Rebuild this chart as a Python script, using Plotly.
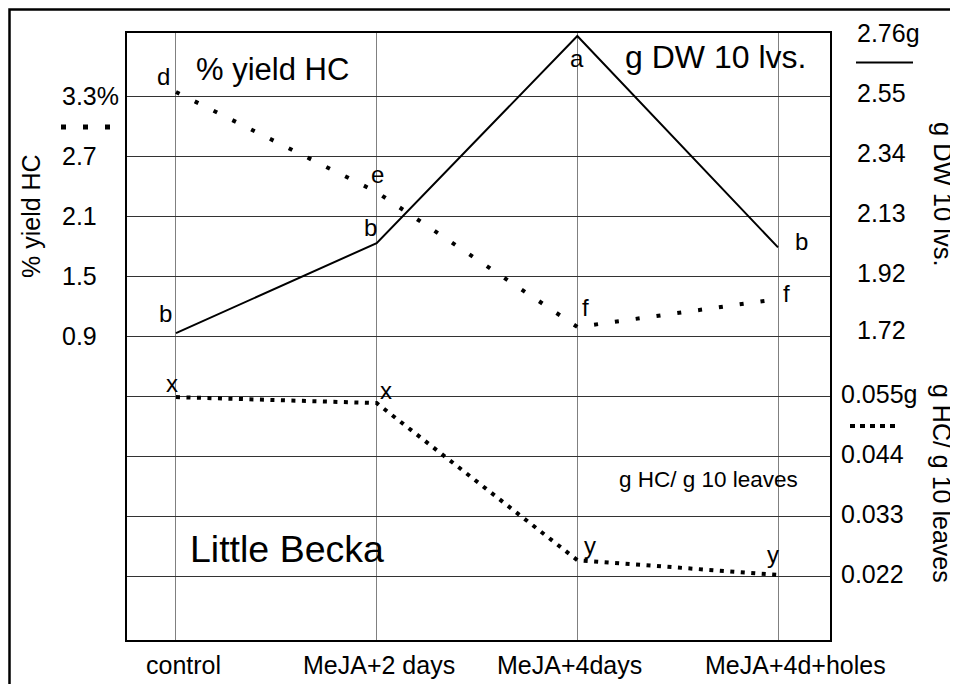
import plotly.graph_objects as go

# ---------------- data ----------------
categories = ["control", "MeJA+2 days", "MeJA+4days", "MeJA+4d+holes"]
dw_10lvs = [1.72, 2.035, 2.76, 2.02]          # g DW 10 lvs. (solid, right upper axis)
pct_yield_hc = [3.34, 2.34, 0.99, 1.27]       # % yield HC (sparse dots, left axis)
hc_per_g = [0.0548, 0.0537, 0.0249, 0.0222]   # g HC / g 10 leaves (dense dots, right lower axis)

dw_letters = ["b", "b", "a", "b"]
pct_letters = ["d", "e", "f", "f"]
hc_letters = ["x", "x", "y", "y"]

left_ticks = [3.3, 2.7, 2.1, 1.5, 0.9]
left_ticktext = ["3.3%", "2.7", "2.1", "1.5", "0.9"]
dw_ticks = [2.76, 2.55, 2.34, 2.13, 1.92, 1.72]
dw_ticktext = ["2.76g", "2.55", "2.34", "2.13", "1.92", "1.72"]
hc_ticks = [0.055, 0.044, 0.033, 0.022]
hc_ticktext = ["0.055g", "0.044", "0.033", "0.022"]
grid_vals = [3.3, 2.7, 2.1, 1.5, 0.9, 0.3, -0.3, -0.9, -1.5]

# ---------------- layout geometry ----------------
# the page body has an 8px margin, so the figure starts at (8, 8) of the window
OFF = 8
W, H = 950, 676
L, R, T, B = 119, 128, 25, 44
PW, PH = W - L - R, H - T - B
FONT = "Liberation Sans, Arial, Helvetica, sans-serif"


def px(x):
    """window pixel x -> paper x"""
    return (x - OFF - L) / PW


def py(y):
    """window pixel y -> paper y"""
    return (H - B - (y - OFF)) / PH


xs = list(range(len(categories)))

fig = go.Figure()
fig.add_trace(go.Scatter(x=xs, y=pct_yield_hc, yaxis="y", mode="lines",
                         line=dict(color="black", width=4, dash="4px,17px"),
                         showlegend=False, hoverinfo="skip"))
fig.add_trace(go.Scatter(x=xs, y=dw_10lvs, yaxis="y2", mode="lines",
                         line=dict(color="black", width=2),
                         showlegend=False, hoverinfo="skip"))
fig.add_trace(go.Scatter(x=xs, y=hc_per_g, yaxis="y3", mode="lines",
                         line=dict(color="black", width=4, dash="4px,6.5px"),
                         showlegend=False, hoverinfo="skip"))

ann = []
tf = dict(family=FONT, size=25, color="black")
for v, t in zip(left_ticks, left_ticktext):
    ann.append(dict(xref="paper", yref="y", x=px(60), y=v, text=t, xanchor="left",
                    yanchor="middle", showarrow=False, font=tf))
for v, t in zip(dw_ticks, dw_ticktext):
    ann.append(dict(xref="paper", yref="y2", x=px(855), y=v, text=t, xanchor="left",
                    yanchor="middle", yshift=3, showarrow=False, font=tf))
for v, t in zip(hc_ticks, hc_ticktext):
    ann.append(dict(xref="paper", yref="y3", x=px(839), y=v, text=t, xanchor="left",
                    yanchor="middle", yshift=2, showarrow=False, font=tf))

# category labels under the plot
cat_shift = [8, 2, -8, 17]
for i, c in enumerate(categories):
    ann.append(dict(xref="x", yref="paper", x=i, y=py(665), text=c, xanchor="center",
                    yanchor="middle", xshift=cat_shift[i], showarrow=False, font=tf))


def label(x, y, text, size, angle=0):
    return dict(xref="paper", yref="paper", x=px(x), y=py(y), text=text,
                xanchor="center", yanchor="middle", textangle=angle, showarrow=False,
                font=dict(family=FONT, size=size, color="black"))


# axis titles
ann.append(label(31, 216, "% yield HC", 25, -90))
ann.append(label(943, 194, "g DW 10 lvs.", 25.5, 90))
ann.append(label(942, 483, "g HC/ g 10 leaves", 25, 90))

# in-plot labels
ann.append(label(272, 70, "% yield HC", 31))
ann.append(label(715, 57, "g DW 10 lvs.", 32))
ann.append(label(708, 479, "g HC/ g 10 leaves", 22.5))
ann.append(label(287, 549, "Little Becka", 37.5))

# significance letters
lf = dict(family=FONT, size=24, color="black")
dw_off = [(-10, 20), (-6, 16), (0, -22), (23, 6)]
pct_off = [(-12, 16), (1, 18), (8, 20), (8, 6)]
hc_off = [(-4, 14), (9, 13), (13, 15), (-5, 20)]
for i in xs:
    ann.append(dict(x=i, y=dw_10lvs[i], yref="y2", text=dw_letters[i], showarrow=False,
                    xanchor="center", yanchor="middle",
                    xshift=dw_off[i][0], yshift=dw_off[i][1], font=lf))
    ann.append(dict(x=i, y=pct_yield_hc[i], yref="y", text=pct_letters[i], showarrow=False,
                    xanchor="center", yanchor="middle",
                    xshift=pct_off[i][0], yshift=pct_off[i][1], font=lf))
    ann.append(dict(x=i, y=hc_per_g[i], yref="y3", text=hc_letters[i], showarrow=False,
                    xanchor="center", yanchor="middle",
                    xshift=hc_off[i][0], yshift=hc_off[i][1], font=lf))

shapes = [
    # outer frame (only left and top edges fall inside the picture)
    dict(type="rect", xref="paper", yref="paper", x0=px(9.5), x1=px(1000), y0=py(740), y1=py(9.5),
         line=dict(color="black", width=2.5), fillcolor="rgba(0,0,0,0)"),
    # key marks
    dict(type="line", xref="paper", yref="paper", x0=px(61), x1=px(110), y0=py(127), y1=py(127),
         line=dict(color="black", width=5, dash="5px,17px")),
    dict(type="line", xref="paper", yref="paper", x0=px(856), x1=px(913), y0=py(62.5), y1=py(62.5),
         line=dict(color="black", width=2)),
    dict(type="line", xref="paper", yref="paper", x0=px(850), x1=px(898), y0=py(426), y1=py(426),
         line=dict(color="black", width=4, dash="5px,5px")),
]

fig.update_layout(
    width=W, height=H, autosize=False,
    margin=dict(l=L, r=R, t=T, b=B, pad=0, autoexpand=False),
    paper_bgcolor="white", plot_bgcolor="white",
    showlegend=False,
    font=dict(family=FONT, color="black"),
    xaxis=dict(range=[-0.244, 3.259], tickmode="array", tickvals=xs, showticklabels=False,
               ticks="", automargin=False,
               showgrid=True, gridcolor="#808080", gridwidth=1,
               showline=True, mirror=True, linecolor="black", linewidth=1.5, zeroline=False),
    yaxis=dict(range=[-2.14, 3.93], tickmode="array", tickvals=grid_vals, showticklabels=False,
               ticks="", automargin=False, showgrid=True, gridcolor="#333333", gridwidth=1.3,
               showline=True, mirror=True, linecolor="black", linewidth=1.5, zeroline=False),
    yaxis2=dict(range=[0.646, 2.7705], overlaying="y", side="right", showgrid=False,
                automargin=False, showticklabels=False, ticks="", zeroline=False, showline=False),
    yaxis3=dict(range=[0.01027, 0.12155], overlaying="y", side="right", showgrid=False,
                automargin=False, showticklabels=False, ticks="", zeroline=False, showline=False),
    annotations=ann,
    shapes=shapes,
)

fig.write_html("out.html")
